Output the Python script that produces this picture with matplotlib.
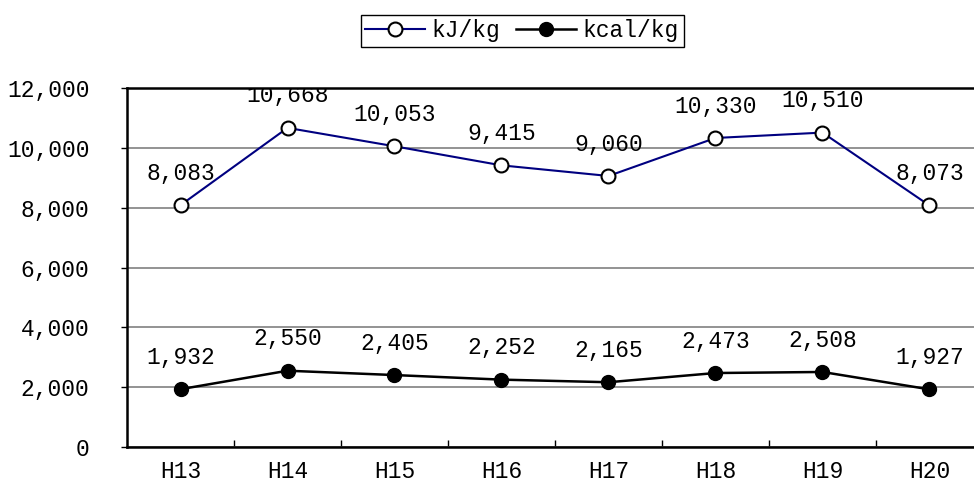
import matplotlib
matplotlib.use("Agg")
import matplotlib.pyplot as plt
from matplotlib.ticker import FuncFormatter, MultipleLocator

years = ["H13", "H14", "H15", "H16", "H17", "H18", "H19", "H20"]
kj_per_kg = [8083, 10668, 10053, 9415, 9060, 10330, 10510, 8073]
kcal_per_kg = [1932, 2550, 2405, 2252, 2165, 2473, 2508, 1927]

plt.rcParams["font.family"] = ["Liberation Mono", "DejaVu Sans Mono"]
plt.rcParams["font.size"] = 16.5


def main() -> None:
    fig = plt.figure(figsize=(9.74, 4.97), dpi=100)
    ax = fig.add_axes([0.1304, 0.1006, 0.8788, 0.7223])

    x = list(range(len(years)))
    ax.plot(x, kj_per_kg, color="#000080", linewidth=1.5, marker="o",
            markersize=10, markerfacecolor="white", markeredgecolor="black",
            markeredgewidth=1.5, label="kJ/kg", zorder=3)
    ax.plot(x, kcal_per_kg, color="black", linewidth=1.8, marker="o",
            markersize=10, markerfacecolor="black", markeredgecolor="black",
            label="kcal/kg", zorder=3)

    # value labels above each point, cut off at the plot frame
    for series in (kj_per_kg, kcal_per_kg):
        for xi, v in zip(x, series):
            t = ax.annotate(f"{v:,}", (xi, v), xytext=(0, 23), textcoords="offset points",
                            ha="center", va="center", annotation_clip=False)
            t.set_clip_on(True)
            t.set_clip_box(ax.bbox)

    ax.set_xlim(-0.5, len(years) - 0.5)
    ax.set_ylim(0, 12000)
    ax.yaxis.set_major_locator(MultipleLocator(2000))
    ax.yaxis.set_major_formatter(FuncFormatter(lambda v, p: f"{int(v):,}"))
    ax.grid(axis="y", color="#808080", linewidth=1.2)
    ax.set_axisbelow(True)

    ax.set_xticks(x)
    ax.set_xticklabels(years)
    ax.tick_params(axis="x", which="major", length=0, pad=9)
    ax.set_xticks([i + 0.5 for i in x], minor=True)
    ax.tick_params(axis="x", which="minor", direction="in", length=5, width=1)
    ax.tick_params(axis="y", length=4, width=1, pad=23)

    for side in ("left", "bottom", "top"):
        ax.spines[side].set_linewidth(1.8)
    ax.spines["right"].set_visible(False)

    fig.legend(loc="center", bbox_to_anchor=(0.536, 0.938), ncol=2, frameon=True,
               fancybox=False, edgecolor="black", framealpha=1, borderpad=0.2,
               handlelength=2.6, handletextpad=0.3, columnspacing=0.7,
               borderaxespad=0)

    fig.savefig("out.png", dpi=100)


if __name__ == "__main__":
    main()
